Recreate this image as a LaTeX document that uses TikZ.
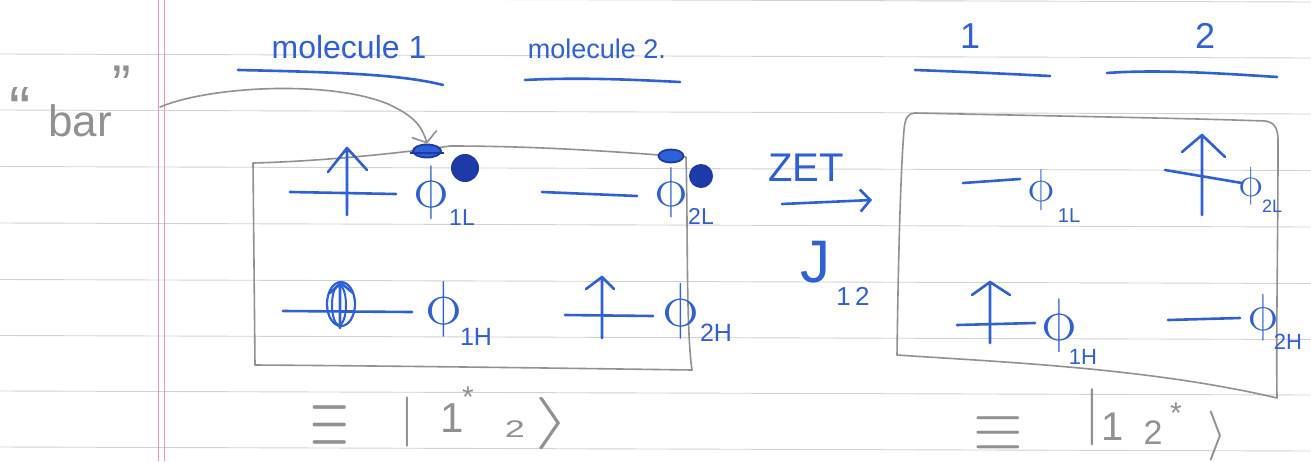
\RequirePackage{fix-cm}
\documentclass[tikz,border=0pt]{standalone}
\usepackage{fontspec}
\setmainfont{Liberation Sans}
\usetikzlibrary{arrows.meta,shapes.geometric}

\definecolor{ink}{RGB}{46,96,214}
\definecolor{inkdark}{RGB}{28,58,168}
\definecolor{pencil}{RGB}{145,145,145}
\definecolor{rulecol}{RGB}{210,210,210}
\definecolor{margincol}{RGB}{238,150,175}
\newcommand\fsz[1]{\fontsize{#1}{#1}\selectfont}

\tikzset{
  ruleline/.style={draw=rulecol, line width=0.9pt},
  marginline/.style={draw=margincol, line width=0.9pt},
  penbox/.style={draw=pencil, line width=1.6pt, line join=round},
  lvl/.style={draw=ink, line width=2.6pt, line cap=round},
  spin/.style={draw=ink, line width=2.6pt, line cap=round, line join=round},
  hand/.style={text=ink, inner sep=0pt},
  pen/.style={text=pencil, inner sep=0pt},
  orb/.style={text=ink, inner sep=0pt},
  scribble/.style={ellipse, draw=inkdark, fill=ink, line width=1.8pt,
    minimum width=28pt, minimum height=13pt, inner sep=0pt},
  blob/.style={circle, fill=inkdark, inner sep=0pt},
  inkarrow/.style={draw=ink, line width=2.6pt, line cap=round,
    -{Straight Barb[length=10pt,width=22pt,line width=2.6pt]}},
  penarrow/.style={draw=pencil, line width=1.6pt, line cap=round,
    -{Straight Barb[length=9pt,width=26pt,line width=1.6pt]}}
}

% upright orbital symbol: name, x, y, font size
\newcommand\orbital[4]{%
  \begin{scope}[shift={(#2,#3)}]
    \node[orb, font=\fsz{#4}, xslant=-0.25, transform shape] (#1) at (0,0) {$\phi$};
  \end{scope}}

\begin{document}
\begin{tikzpicture}[x=1pt,y=-1pt]
\useasboundingbox (0,0) rectangle (1311,461);
\fill[white] (0,0) rectangle (1311,461);

% ruled notebook paper
\foreach \yy in {-2,54,110,166.5,223,279.5,335.5,391,447}
  \draw[ruleline] (0,\yy) -- (1311,\yy+4);
\draw[marginline] (158,0) -- (158,461);
\draw[marginline] (164,0) -- (164,461);

% headings
\node[hand, anchor=base, font=\fsz{32}] (mol1) at (349,58) {molecule 1};
\node[hand, anchor=base, font=\fsz{27}] (mol2) at (597,58) {molecule 2.};
\node[hand, anchor=base, font=\fsz{36}] (hd1) at (970,48) {1};
\node[hand, anchor=base, font=\fsz{36}] (hd2) at (1205,48) {2};
\draw[lvl] (238,70) .. controls (330,72) and (400,74) .. (443,85);
\draw[lvl] (525,80) .. controls (580,77) and (640,80) .. (680,82);
\draw[lvl] (915,70) .. controls (970,72) and (1010,74) .. (1050,76);
\draw[lvl] (1107,73) .. controls (1160,69) and (1230,74) .. (1277,77);

% pencil label and its pointer
\node[pen, anchor=base, font=\fsz{64}] (qopen) at (20,131) {“};
\node[pen, anchor=base, font=\fsz{44}] (bar) at (80,136) {bar};
\node[pen, anchor=base, font=\fsz{56}] (qclose) at (122,104) {”};

% state before transfer
\draw[penbox] (253,163) .. controls (300,162) and (380,156) .. (450,146)
  .. controls (540,146) and (620,152) .. (686,157)
  .. controls (688,230) and (686,330) .. (692,370)
  .. controls (550,368) and (400,366) .. (255,365) -- cycle;

\draw[lvl] (290,192) -- (396,194);
\draw[spin] (347,215) -- (347,148) (328,172) -- (347,148) -- (367,170);
\orbital{p1La}{430}{192}{60}
\node[orb, font=\fsz{23}] (s1La) at (462,218) {1L};

\draw[lvl] (542,192) -- (637,196);
\orbital{p2La}{670}{192}{56}
\node[orb, font=\fsz{23}] (s2La) at (701,216) {2L};

\draw[lvl] (283,311) -- (412,312);
\draw[ink, line width=2.2pt] (341,304) ellipse [x radius=14pt, y radius=22pt];
\draw[ink, line width=2pt] (339,305) ellipse [x radius=7pt, y radius=20pt];
\draw[spin] (340,283) -- (340,328) (330,293) -- (341,283) -- (353,293);
\orbital{p1Ha}{443}{309}{62}
\node[orb, font=\fsz{25}] (s1Ha) at (476,337) {1H};

\draw[lvl] (565,315) -- (653,316);
\draw[spin] (602,338) -- (602,277) (586,289) -- (602,277) -- (614,289);
\orbital{p2Ha}{680}{311}{62}
\node[orb, font=\fsz{25}] (s2Ha) at (716,333) {2H};

% electrons marked above the upper levels
\node[scribble] (e1) at (427,151) {};
\draw[inkdark, line width=2pt] (410,153) -- (444,153);
\node[blob, minimum size=28pt] (d1) at (465,168) {};
\node[scribble, minimum width=25pt] (e2) at (671,156) {};
\node[blob, minimum size=24pt] (d2) at (701,176) {};

\coordinate (barfrom) at (160,107);
\draw[penarrow] (barfrom) .. controls (210,86) and (330,80) .. (388,104)
  .. controls (414,116) and (422,126) .. (e1.north);

% transfer arrow
\node[hand, anchor=base, font=\fsz{40}] (zet) at (806,181) {ZET};
\coordinate (zetA) at (782,204);
\coordinate (zetB) at (872,200);
\draw[inkarrow] (zetA) -- (zetB);
\node[hand, anchor=base, font=\fsz{60}] (J) at (815,282) {J};
\node[hand, anchor=base, font=\fsz{26}] (Jsub) at (853,305) {1\,2};

% state after transfer
\draw[penbox] (915,113) .. controls (1050,116) and (1180,118) .. (1265,121)
  .. controls (1274,122) and (1278,128) .. (1278,140)
  .. controls (1278,250) and (1276,330) .. (1277,398)
  .. controls (1150,368) and (1000,362) .. (897,355)
  .. controls (898,280) and (900,180) .. (904,130)
  .. controls (905,118) and (908,113) .. (915,113) -- cycle;

\draw[lvl] (963,183) -- (1020,179);
\orbital{p1Lb}{1040}{190}{46}
\node[orb, font=\fsz{20}] (s1Lb) at (1069,216) {1L};

\draw[lvl] (1165,170) -- (1242,183);
\draw[spin] (1202,215) -- (1202,135) (1182,152) -- (1202,135) -- (1225,157);
\orbital{p2Lb}{1250}{186}{42}
\node[orb, font=\fsz{18}] (s2Lb) at (1272,206) {2L};

\draw[lvl] (957,325) -- (1035,323);
\draw[spin] (990,343) -- (990,282) (972,295) -- (990,282) -- (1010,295);
\orbital{p1Hb}{1058}{325}{60}
\node[orb, font=\fsz{22}] (s1Hb) at (1083,357) {1H};

\draw[lvl] (1168,320) -- (1240,318);
\orbital{p2Hb}{1262}{317}{52}
\node[orb, font=\fsz{22}] (s2Hb) at (1288,342) {2H};

% kets written underneath
\node[pen, font=\fsz{90}] (eqA) at (330,427) {\scalebox{0.55}[1]{$\equiv$}};
\node[pen, font=\fsz{50}] (barA) at (407,422) {$|$};
\node[pen, font=\fsz{42}] (oneA) at (452,418) {1};
\node[pen, font=\fsz{30}] (starA) at (468,397) {*};
\node[pen, font=\fsz{24}] (twoA) at (515,429) {\scalebox{1.5}[1]{2}};
\node[pen, font=\fsz{52}] (ketA) at (553,423) {\scalebox{1.8}[1]{$\rangle$}};

\node[pen, font=\fsz{75}] (eqB) at (998,434) {\scalebox{0.85}[1]{$\equiv$}};
\node[pen, font=\fsz{57}] (barB) at (1092,417) {$|$};
\node[pen, font=\fsz{40}] (oneB) at (1113,427) {1};
\node[pen, font=\fsz{34}] (twoB) at (1153,433) {2};
\node[pen, font=\fsz{30}] (starB) at (1176,413) {*};
\node[pen, font=\fsz{50}] (ketB) at (1217,436) {$\rangle$};
\end{tikzpicture}
\end{document}
